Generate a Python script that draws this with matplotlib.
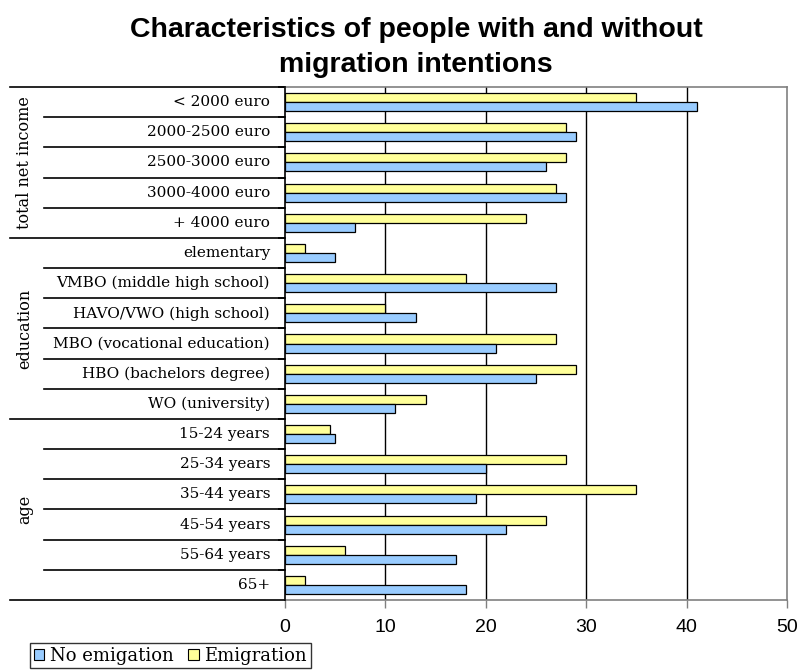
import matplotlib
matplotlib.use('Agg')
import matplotlib.pyplot as plt
from matplotlib.patches import Patch

# survey shares (%) per category, top to bottom
categories = ['< 2000 euro', '2000-2500 euro', '2500-3000 euro', '3000-4000 euro',
              '+ 4000 euro', 'elementary', 'VMBO (middle high school)',
              'HAVO/VWO (high school)', 'MBO (vocational education)',
              'HBO (bachelors degree)', 'WO (university)', '15-24 years',
              '25-34 years', '35-44 years', '45-54 years', '55-64 years', '65+']
no_emigration = [41, 29, 26, 28, 7, 5, 27, 13, 21, 25, 11, 5, 20, 19, 22, 17, 18]
emigration = [35, 28, 28, 27, 24, 2, 18, 10, 27, 29, 14, 4.5, 28, 35, 26, 6, 2]

groups = ['total net income', 'education', 'age']
group_sizes = [5, 6, 6]

x_ticks = [0, 10, 20, 30, 40, 50]

W, H = 798, 672
fig = plt.figure(figsize=(W / 100, H / 100), dpi=100)

ax = fig.add_axes([285 / W, 1 - 600 / H, 502 / W, 513 / H])
lab = fig.add_axes([10 / W, 1 - 600 / H, 275 / W, 513 / H], sharey=ax)

n = len(categories)
pos = list(range(n))
h = 0.30
blue = '#99CCFF'
yellow = '#FFFF99'

ax.barh([p - h / 2 for p in pos], emigration, height=h, color=yellow,
        edgecolor='black', linewidth=0.9, zorder=3)
ax.barh([p + h / 2 for p in pos], no_emigration, height=h, color=blue,
        edgecolor='black', linewidth=0.9, zorder=3)

ax.set_xlim(x_ticks[0], x_ticks[-1])
ax.set_ylim(n - 0.5, -0.5)
ax.set_xticks(x_ticks)
ax.set_xticklabels([str(t) for t in x_ticks], family='Liberation Sans', fontsize=14)
ax.tick_params(axis='x', length=6, width=1, color='#808080', pad=8)
ax.set_yticks([p + 0.5 for p in pos[:-1]] + [-0.5])
ax.set_yticklabels([])
ax.tick_params(axis='y', length=5, width=1.2, color='black')
for t in ax.get_xticks():
    if 0 < t < x_ticks[-1]:
        ax.axvline(t, color='black', linewidth=1, zorder=1)
for side in ['top', 'right', 'bottom']:
    ax.spines[side].set_color('#808080')
    ax.spines[side].set_linewidth(1.2)
ax.spines['left'].set_color('black')
ax.spines['left'].set_linewidth(1.2)

# label table on the left
lab.set_xlim(0, 275)
lab.axis('off')
for i, c in enumerate(categories):
    lab.text(260, i, c, ha='right', va='center', family='DejaVu Serif',
             fontsize=11)
start = 0
for g, size in zip(groups, group_sizes):
    lab.plot([0, 275], [start - 0.5, start - 0.5], color='black', lw=1.2,
             clip_on=False)
    for k in range(1, size):
        y = start + k - 0.5
        lab.plot([34, 275], [y, y], color='black', lw=1.2, clip_on=False)
    lab.text(15, start + (size - 1) / 2, g, rotation=90, ha='center',
             va='center', family='DejaVu Serif', fontsize=11.5)
    start += size
lab.plot([0, 275], [n - 0.5, n - 0.5], color='black', lw=1.2, clip_on=False)

title_lines = ['Characteristics of people with and without', 'migration intentions']
for line, base in zip(title_lines, [37, 72]):
    fig.text(416 / W, 1 - base / H, line, ha='center', va='baseline',
             family='Liberation Sans', fontweight='bold', fontsize=20.5)

handles = [Patch(facecolor=blue, edgecolor='black', linewidth=0.8),
           Patch(facecolor=yellow, edgecolor='black', linewidth=0.8)]
leg = fig.legend(handles, ['No emigation', 'Emigration'], ncol=2,
                 loc='upper left', bbox_to_anchor=(30 / W, 1 - 643 / H),
                 prop={'family': 'DejaVu Serif', 'size': 13},
                 frameon=True, fancybox=False, edgecolor='black',
                 handlelength=0.6, handleheight=0.6, handletextpad=0.3,
                 columnspacing=0.8, borderpad=0.2, borderaxespad=0)
leg.get_frame().set_linewidth(1)

fig.savefig('out.png', dpi=100)
